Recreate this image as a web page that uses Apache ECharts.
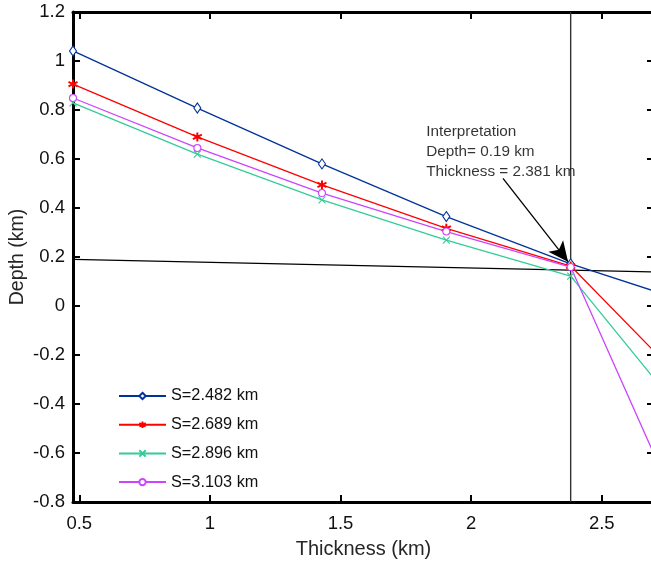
<!DOCTYPE html>
<html>
<head>
<meta charset="utf-8">
<script src="https://cdn.jsdelivr.net/npm/echarts@6/dist/echarts.min.js"></script>
<style>
html,body{margin:0;padding:0;background:#fff;}
#chart{width:651px;height:564px;}
</style>
</head>
<body>
<div id="chart"></div>
<script>
// ---- data ----
const thickness = [0.476, 0.952, 1.429, 1.905, 2.381, 2.857];
const seriesNames = ['S=2.482 km', 'S=2.689 km', 'S=2.896 km', 'S=3.103 km'];
const depthS1 = [1.041, 0.808, 0.580, 0.365, 0.172, 0.007];
const depthS2 = [0.906, 0.690, 0.494, 0.317, 0.163, -0.355];
const depthS3 = [0.829, 0.620, 0.433, 0.269, 0.122, -0.501];
const depthS4 = [0.849, 0.645, 0.461, 0.304, 0.159, -0.980];
const depthLineX = [0.476, 2.7];
const depthLineY = [0.19, 0.139];
const thicknessLineX = [2.381, 2.381];
const thicknessLineY = [-0.8, 1.2];
const arrowStart = [2.122, 0.521];
const arrowEnd = [2.371, 0.181];
const annotationPos = [1.826, 0.629];
const annotationText = ['Interpretation', 'Depth= 0.19 km', 'Thickness = 2.381 km'];
const xTicks = [0.5, 1, 1.5, 2, 2.5];
const xMin = 0.476, xMax = 2.7, yMin = -0.8, yMax = 1.2, yStep = 0.2;

const FONT = 'Liberation Sans';
const colors = ['#003399', '#ff0000', '#33cc99', '#cc44ff'];
const symbols = [
  'diamond',
  'path://M0,-5L0,5M-4.33,-2.5L4.33,2.5M-4.33,2.5L4.33,-2.5',
  'path://M-1,-1L1,1M-1,1L1,-1',
  'circle'
];
const symbolSizes = [[7, 10], 9, 7, 7];
const depthData = [depthS1, depthS2, depthS3, depthS4];

function pairs(xs, ys) { return xs.map((x, i) => [x, ys[i]]); }

const mainSeries = depthData.map((d, i) => ({
  name: seriesNames[i],
  type: 'line',
  data: pairs(thickness, d),
  symbol: symbols[i],
  symbolSize: symbolSizes[i],
  showAllSymbol: true,
  clip: true,
  lineStyle: { color: colors[i], width: 1.3 },
  itemStyle: {
    color: (i === 1) ? colors[i] : '#fff',
    borderColor: colors[i],
    borderWidth: (i === 1) ? 2 : 1.1
  },
  z: 3
}));

const chart = echarts.init(document.getElementById('chart'), null, { renderer: 'canvas' });

const axisText = { fontFamily: FONT, fontSize: 18.5, color: '#111' };

chart.setOption({
  animation: false,
  backgroundColor: '#fff',
  grid: { left: 73, right: -3, top: 12, bottom: 62, containLabel: false, outerBoundsMode: 'none' },
  xAxis: [{
    type: 'value', min: xMin, max: xMax, position: 'bottom',
    name: 'Thickness (km)', nameLocation: 'middle', nameGap: 37, nameMoveOverlap: false,
    nameTextStyle: { fontFamily: FONT, fontSize: 20, color: '#262626' },
    axisLine: { show: true, onZero: false, lineStyle: { color: '#000', width: 3 } },
    axisTick: { show: true, inside: true, length: 7, lineStyle: { color: '#000', width: 2 }, customValues: xTicks },
    axisLabel: Object.assign({ show: true, margin: 12, customValues: xTicks, formatter: v => String(v) }, axisText),
    splitLine: { show: false }
  }, {
    type: 'value', min: xMin, max: xMax, position: 'top',
    axisLine: { show: true, onZero: false, lineStyle: { color: '#000', width: 3 } },
    axisTick: { show: true, inside: true, length: 7, lineStyle: { color: '#000', width: 2 }, customValues: xTicks },
    axisLabel: { show: false },
    splitLine: { show: false }
  }],
  yAxis: [{
    type: 'value', min: yMin, max: yMax, interval: yStep, position: 'left',
    name: 'Depth (km)', nameLocation: 'middle', nameGap: 45, nameRotate: 90, nameMoveOverlap: false,
    nameTextStyle: { fontFamily: FONT, fontSize: 19.5, color: '#262626' },
    axisLine: { show: true, onZero: false, lineStyle: { color: '#000', width: 3 } },
    axisTick: { show: true, inside: true, length: 7, lineStyle: { color: '#000', width: 2 } },
    axisLabel: Object.assign({ show: true, margin: 8, formatter: v => String(+v.toFixed(1)) }, axisText),
    splitLine: { show: false }
  }, {
    type: 'value', min: yMin, max: yMax, interval: yStep, position: 'right',
    axisLine: { show: true, onZero: false, lineStyle: { color: '#000', width: 3 } },
    axisTick: { show: true, inside: true, length: 7, lineStyle: { color: '#000', width: 2 } },
    axisLabel: { show: false },
    splitLine: { show: false }
  }],
  legend: {
    data: seriesNames,
    orient: 'vertical',
    left: 118, top: 388,
    padding: 0,
    itemWidth: 47, itemHeight: 8, itemGap: 12.7,
    textStyle: { fontFamily: FONT, fontSize: 16.3, color: '#111' },
    backgroundColor: 'transparent'
  },
  series: mainSeries.concat([
    {
      name: 'depthLine', type: 'line', data: pairs(depthLineX, depthLineY),
      symbol: 'none', lineStyle: { color: '#000', width: 1.2 }, z: 2, clip: true
    },
    {
      name: 'thicknessLine', type: 'line', data: pairs(thicknessLineX, thicknessLineY),
      symbol: 'none', lineStyle: { color: '#333', width: 1.4 }, z: 2, clip: true,
      markLine: {
        silent: true, animation: false,
        symbol: ['none', 'arrow'], symbolSize: [14, 20],
        label: { show: false },
        lineStyle: { color: '#000', width: 1.3, type: 'solid' },
        data: [[{ coord: arrowStart }, { coord: arrowEnd }]]
      }
    },
    {
      name: 'annotation', type: 'scatter', data: [annotationPos],
      symbolSize: 1, itemStyle: { color: 'rgba(0,0,0,0)' }, silent: true,
      label: {
        show: true, position: 'right', distance: 0,
        formatter: annotationText.join('\n'),
        fontFamily: FONT, fontSize: 15.3, lineHeight: 20, color: '#000', align: 'left'
      },
      z: 5
    }
  ])
});
</script>
</body>
</html>
